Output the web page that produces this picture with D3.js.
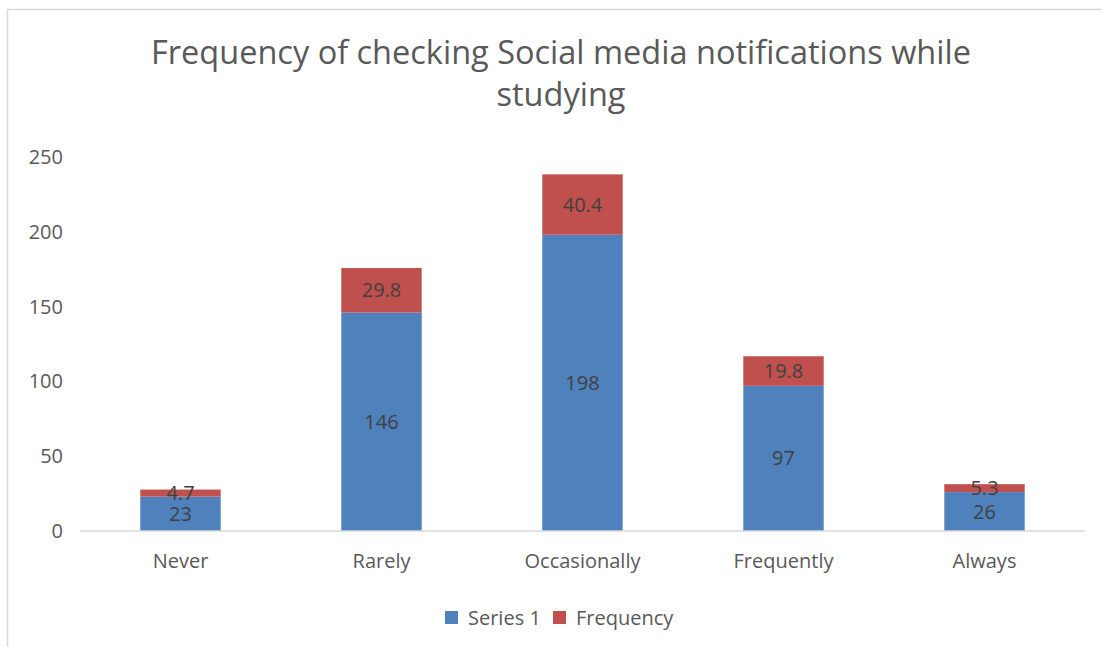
<!DOCTYPE html>
<html>
<head>
<meta charset="utf-8">
<script src="https://cdn.jsdelivr.net/npm/d3@7"></script>
<style>
  body { margin: 0; background: #fff; }
  text { font-family: "Open Sans", "Noto Sans", sans-serif; }
</style>
</head>
<body>
<div id="container"></div>
<script>
const categories = ["Never", "Rarely", "Occasionally", "Frequently", "Always"];
const series1 = [23, 146, 198, 97, 26];
const frequency = [4.7, 29.8, 40.4, 19.8, 5.3];
const seriesNames = ["Series 1", "Frequency"];
const yTicks = [0, 50, 100, 150, 200, 250];
const titleLines = ["Frequency of checking Social media notifications while", "studying"];

const colors = ["#4f81bd", "#c0504d"];
const width = 1102, height = 647;

const svg = d3.select('#container').append('svg')
              .attr('width', width)
              .attr('height', height);

// chart border (left and top visible)
svg.append('path')
   .attr('d', 'M7.5,647 L7.5,9.5 L1102,9.5')
   .attr('fill', 'none')
   .attr('stroke', '#d9d9d9')
   .attr('stroke-width', 1.5);

const x = d3.scaleBand().domain(categories).range([80, 1085]).paddingInner(0.6).paddingOuter(0.3);
const y = d3.scaleLinear().domain([0, 250]).range([531, 157]);

svg.selectAll('.title')
   .data(titleLines)
   .enter()
   .append('text')
   .attr('x', 561)
   .attr('y', (d, i) => 64 + i * 42)
   .attr('text-anchor', 'middle')
   .attr('font-size', 32.5)
   .attr('fill', '#595959')
   .text(d => d);

// y axis labels
svg.selectAll('.ytick')
   .data(yTicks)
   .enter()
   .append('text')
   .attr('x', 63)
   .attr('y', d => y(d) + 7)
   .attr('text-anchor', 'end')
   .attr('font-size', 20)
   .attr('fill', '#595959')
   .text(d => d);

const rows = categories.map((c, i) => ({ cat: c, s1: series1[i], f: frequency[i] }));
const stack = d3.stack().keys(['s1', 'f'])(rows);

stack.forEach((layer, li) => {
    svg.selectAll('.bar' + li)
       .data(layer)
       .enter()
       .append('rect')
       .attr('x', d => x(d.data.cat))
       .attr('width', x.bandwidth())
       .attr('y', d => y(d[1]))
       .attr('height', d => y(d[0]) - y(d[1]))
       .attr('fill', colors[li]);
});

// x axis line
svg.append('line')
   .attr('x1', 80).attr('x2', 1085)
   .attr('y1', y(0)).attr('y2', y(0))
   .attr('stroke', '#d9d9d9')
   .attr('stroke-width', 1.5);

// data labels
stack.forEach((layer, li) => {
    svg.selectAll('.lbl' + li)
       .data(layer)
       .enter()
       .append('text')
       .attr('x', d => x(d.data.cat) + x.bandwidth() / 2)
       .attr('y', d => (y(d[0]) + y(d[1])) / 2 + 7)
       .attr('text-anchor', 'middle')
       .attr('font-size', 20)
       .attr('fill', '#404040')
       .text(d => li === 0 ? d.data.s1 : d.data.f);
});

// category labels
svg.selectAll('.xlbl')
   .data(categories)
   .enter()
   .append('text')
   .attr('x', d => x(d) + x.bandwidth() / 2)
   .attr('y', 568)
   .attr('text-anchor', 'middle')
   .attr('font-size', 20)
   .attr('fill', '#595959')
   .text(d => d);

// legend
const legendX = [445, 553];
const legend = svg.selectAll('.legend')
                  .data(seriesNames)
                  .enter()
                  .append('g')
                  .attr('transform', (d, i) => `translate(${legendX[i]}, 611)`);
legend.append('rect')
      .attr('width', 13).attr('height', 13)
      .attr('fill', (d, i) => colors[i]);
legend.append('text')
      .attr('x', 23).attr('y', 14)
      .attr('font-size', 20)
      .attr('fill', '#595959')
      .text(d => d);
</script>
</body>
</html>
